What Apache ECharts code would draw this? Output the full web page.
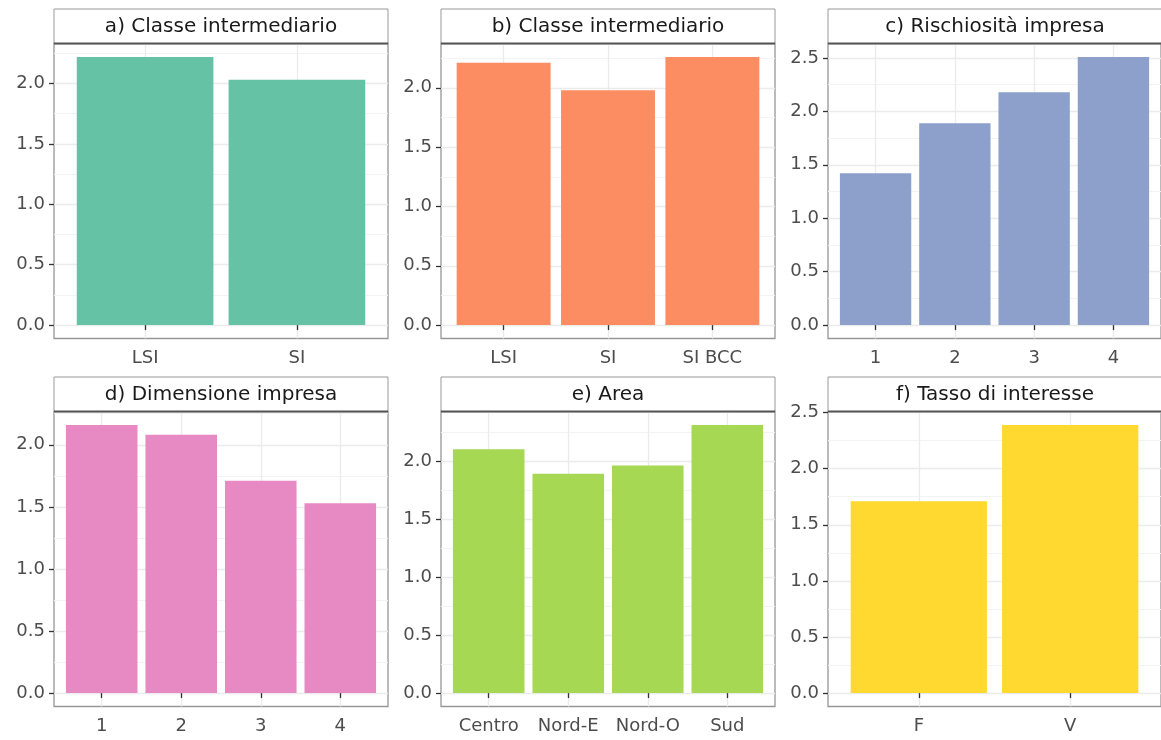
<!DOCTYPE html>
<html>
<head>
<meta charset="utf-8">
<script src="https://cdn.jsdelivr.net/npm/echarts@6/dist/echarts.min.js"></script>
<style>
  html, body { margin: 0; padding: 0; background: #ffffff; }
  #chart { width: 1161px; height: 740px; }
</style>
</head>
<body>
<div id="chart"></div>
<script>
// Panel headings
const titles = [
  'a) Classe intermediario',
  'b) Classe intermediario',
  'c) Rischiosità impresa',
  'd) Dimensione impresa',
  'e) Area',
  'f) Tasso di interesse'
];

// Categories and mean values for each panel
const catsA = ['LSI', 'SI'];
const valsA = [2.22, 2.03];
const catsB = ['LSI', 'SI', 'SI BCC'];
const valsB = [2.21, 1.98, 2.26];
const catsC = ['1', '2', '3', '4'];
const valsC = [1.42, 1.89, 2.18, 2.51];
const catsD = ['1', '2', '3', '4'];
const valsD = [2.16, 2.08, 1.71, 1.53];
const catsE = ['Centro', 'Nord-E', 'Nord-O', 'Sud'];
const valsE = [2.10, 1.89, 1.96, 2.31];
const catsF = ['F', 'V'];
const valsF = [1.71, 2.39];

// Y tick marks
const ticksLow = [0, 0.5, 1, 1.5, 2];
const ticksHigh = [0, 0.5, 1, 1.5, 2, 2.5];

// Set2 palette
const colors = ['#66C2A5', '#FC8D62', '#8DA0CB', '#E78AC3', '#A6D854', '#FFD92F'];

const panels = [
  { cats: catsA, vals: valsA, ticks: ticksLow },
  { cats: catsB, vals: valsB, ticks: ticksLow },
  { cats: catsC, vals: valsC, ticks: ticksHigh },
  { cats: catsD, vals: valsD, ticks: ticksLow },
  { cats: catsE, vals: valsE, ticks: ticksLow },
  { cats: catsF, vals: valsF, ticks: ticksHigh }
];

// Facet layout (pixels)
const colLeft = [54, 441, 828];
const rowTop = [9, 377];
const stripH = 34.5;
const panelW = 334;
const panelH = 295;

const FONT = '"DejaVu Sans", "Noto Sans", sans-serif';
const tickColor = '#333333';
const labelColor = '#4D4D4D';
const majorGrid = '#EBEBEB';
const minorGrid = '#F3F3F3';

const grid = [], xAxis = [], yAxis = [], series = [], graphic = [];

panels.forEach((p, i) => {
  const L = colLeft[i % 3];
  const T = rowTop[Math.floor(i / 3)];
  const n = p.cats.length;
  const M = Math.max(...p.vals);
  const yMin = -0.05 * M;
  const yMax = 1.05 * M;
  const positions = p.cats.map((c, k) => k + 1);
  const minor = p.ticks.map(t => t + 0.25).filter(t => t <= yMax);

  grid.push({
    left: L, top: T + stripH, width: panelW, height: panelH,
    show: true, backgroundColor: '#ffffff',
    borderColor: '#969696', borderWidth: 1.3
  });

  xAxis.push({
    type: 'value', gridIndex: i, min: 0.4, max: n + 0.6,
    axisLine: { show: false },
    axisTick: { show: true, length: 5, customValues: positions,
      lineStyle: { color: tickColor, width: 1.3 } },
    axisLabel: { customValues: positions, margin: 11,
      formatter: v => p.cats[Math.round(v) - 1],
      color: labelColor, fontSize: 18, fontFamily: FONT },
    splitLine: { show: true, lineStyle: { color: majorGrid, width: 1.3 } }
  });

  // major grid, ticks and labels
  yAxis.push({
    type: 'value', gridIndex: i, min: yMin, max: yMax,
    axisLine: { show: false },
    axisTick: { show: true, length: 5, customValues: p.ticks,
      lineStyle: { color: tickColor, width: 1.3 } },
    axisLabel: { customValues: p.ticks, margin: 9,
      formatter: v => v.toFixed(1),
      color: labelColor, fontSize: 18, fontFamily: FONT },
    splitLine: { show: true, lineStyle: { color: majorGrid, width: 1.3 } }
  });
  // minor grid lines
  yAxis.push({
    type: 'value', gridIndex: i, min: yMin, max: yMax,
    axisLine: { show: false },
    axisTick: { show: false, customValues: minor },
    axisLabel: { show: false },
    splitLine: { show: true, lineStyle: { color: minorGrid, width: 1 } }
  });

  series.push({
    type: 'bar', xAxisIndex: i, yAxisIndex: 2 * i,
    data: p.vals.map((v, k) => [k + 1, v]),
    barWidth: '90%',
    itemStyle: { color: colors[i] },
    silent: true
  });

  // facet strip
  graphic.push({
    type: 'rect', silent: true, z: 10,
    shape: { x: L, y: T, width: panelW, height: stripH },
    style: { fill: '#ffffff', stroke: '#999999', lineWidth: 1 }
  });
  graphic.push({
    type: 'line', silent: true, z: 11,
    shape: { x1: L, y1: T + stripH, x2: L + panelW, y2: T + stripH },
    style: { stroke: '#555555', lineWidth: 2 }
  });
  graphic.push({
    type: 'text', silent: true, z: 12,
    x: L + panelW / 2, y: T + stripH / 2 + 1,
    style: {
      text: titles[i], fill: '#1A1A1A',
      font: '20px ' + FONT,
      textAlign: 'center', textVerticalAlign: 'middle',
      align: 'center', verticalAlign: 'middle'
    }
  });
});

const chart = echarts.init(document.getElementById('chart'), null, { renderer: 'canvas' });
chart.setOption({
  animation: false,
  backgroundColor: '#ffffff',
  grid, xAxis, yAxis, series, graphic
});
</script>
</body>
</html>
